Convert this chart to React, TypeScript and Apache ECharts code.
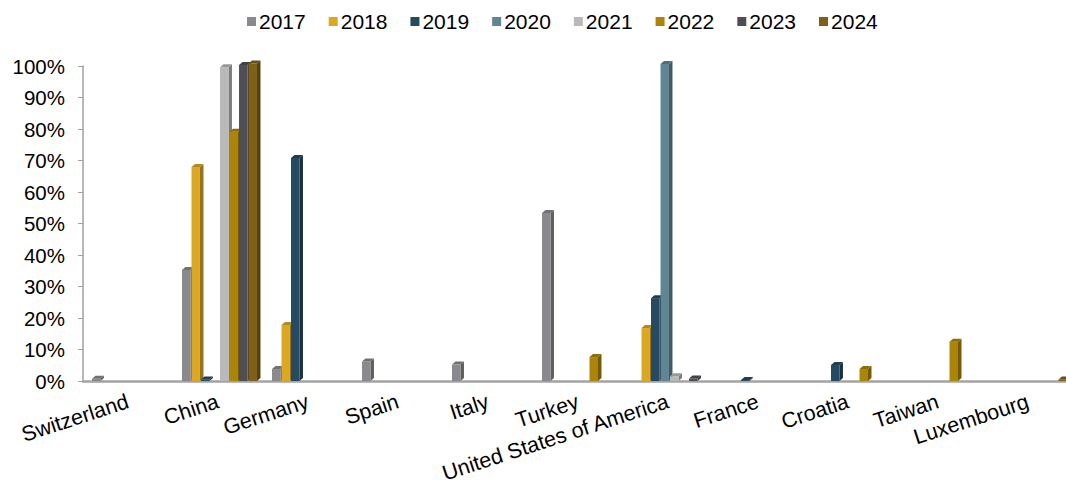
import React, { useEffect, useRef } from "react";
import * as echarts from "echarts";

const categories = [
  "Switzerland",
  "China",
  "Germany",
  "Spain",
  "Italy",
  "Turkey",
  "United States of America",
  "France",
  "Croatia",
  "Taiwan",
  "Luxembourg",
];

const years = ["2017", "2018", "2019", "2020", "2021", "2022", "2023", "2024"];

const s2017 = [0.7, 35.2, 3.8, 6.2, 5.2, 53.3, 0, 0, 0, 0, 0];
const s2018 = [0, 67.9, 17.8, 0, 0, 0, 16.8, 0, 0, 0, 0];
const s2019 = [0, 0.5, 70.8, 0, 0, 0, 26.3, 0.3, 5.1, 0, 0];
const s2020 = [0, 0, 0, 0, 0, 0, 100.6, 0, 0, 0, 0];
const s2021 = [0, 99.6, 0, 0, 0, 0, 1.5, 0, 0, 0, 0];
const s2022 = [0, 79.1, 0, 0, 0, 7.6, 0, 0, 3.8, 12.5, 0];
const s2023 = [0, 100.3, 0, 0, 0, 0, 0.8, 0, 0, 0, 0];
const s2024 = [0, 100.8, 0, 0, 0, 0, 0, 0, 0, 0, 0.5];

const seriesValues = [s2017, s2018, s2019, s2020, s2021, s2022, s2023, s2024];

const yTicks = [0, 10, 20, 30, 40, 50, 60, 70, 80, 90, 100];

const colors = [
  "#8A8A8E",
  "#DCA723",
  "#254A62",
  "#5F8693",
  "#B9B9B9",
  "#AC8508",
  "#4F4E55",
  "#7E6117",
];

function shade(hex: string, f: number): string {
  const n = parseInt(hex.slice(1), 16);
  let r = (n >> 16) & 255;
  let g = (n >> 8) & 255;
  let b = n & 255;
  if (f < 1) {
    r = Math.round(r * f);
    g = Math.round(g * f);
    b = Math.round(b * f);
  } else {
    const t = f - 1;
    r = Math.round(r + (255 - r) * t);
    g = Math.round(g + (255 - g) * t);
    b = Math.round(b + (255 - b) * t);
  }
  return `rgb(${r},${g},${b})`;
}

export default function App() {
  const ref = useRef<HTMLDivElement>(null);

  useEffect(() => {
    if (!ref.current) return;
    const chart = echarts.init(ref.current, undefined, { renderer: "svg" });

    const slotFrac = 0.1056;
    const startFrac = 0.1;
    const frontFrac = 0.094;
    const dx = 3.5;
    const dy = 3;

    const series = years.map((year, si) => {
      const color = colors[si];
      const data = seriesValues[si].map((v, ci) => [ci, v]);
      return {
        name: year,
        type: "custom",
        itemStyle: { color },
        clip: false,
        data,
        renderItem: (params: any, api: any) => {
          const ci = api.value(0);
          const v = api.value(1);
          if (!v) return null;
          const base = api.coord([ci, 0]);
          const top = api.coord([ci, v]);
          const band = api.size([1, 0])[0];
          const x0 = base[0] - band / 2 + band * startFrac + si * band * slotFrac;
          const w = band * frontFrac;
          const yb = base[1];
          const yt = top[1];
          const h = Math.max(0, yb - yt);
          return {
            type: "group",
            children: [
              {
                type: "polygon",
                shape: {
                  points: [
                    [x0 + w, yt],
                    [x0 + w + dx, yt - dy],
                    [x0 + w + dx, yb - dy],
                    [x0 + w, yb],
                  ],
                },
                style: { fill: shade(color, 0.68) },
              },
              {
                type: "rect",
                shape: { x: x0, y: yt, width: w, height: h },
                style: { fill: color },
              },
              {
                type: "polygon",
                shape: {
                  points: [
                    [x0, yt],
                    [x0 + dx, yt - dy],
                    [x0 + w + dx, yt - dy],
                    [x0 + w, yt],
                  ],
                },
                style: { fill: shade(color, 0.82) },
              },
            ],
          };
        },
      };
    });

    chart.setOption({
      animation: false,
      backgroundColor: "#ffffff",
      legend: {
        top: 6,
        left: 242,
        itemWidth: 9,
        itemHeight: 9,
        itemGap: 23,
        icon: "rect",
        textStyle: {
          fontFamily: "Liberation Sans, Arial, sans-serif",
          fontSize: 21,
          color: "#000",
          padding: [0, 0, 0, -2],
        },
        data: years,
      },
      grid: {
        left: 83,
        right: -7,
        top: 66,
        bottom: 107,
        containLabel: false,
        outerBoundsMode: "none",
      },
      xAxis: {
        type: "category",
        data: categories,
        axisLine: { show: true, lineStyle: { color: "#A3A3A3", width: 2.5 } },
        axisTick: { show: false },
        axisLabel: {
          interval: 0,
          rotate: 18,
          margin: 20,
          fontFamily: "Liberation Sans, Arial, sans-serif",
          fontSize: 21.5,
          color: "#000",
        },
        splitLine: { show: false },
      },
      yAxis: {
        type: "value",
        min: yTicks[0],
        max: yTicks[yTicks.length - 1],
        interval: 10,
        axisLine: { show: true, lineStyle: { color: "#A0A0A0", width: 1.5 } },
        axisTick: { show: true, length: 5, lineStyle: { color: "#A0A0A0" } },
        splitLine: { show: false },
        axisLabel: {
          formatter: "{value}%",
          margin: 18,
          fontFamily: "Liberation Sans, Arial, sans-serif",
          fontSize: 20.5,
          color: "#000",
        },
      },
      series,
    });

    return () => chart.dispose();
  }, []);

  return (
    <div
      ref={ref}
      style={{ position: "absolute", left: 0, top: 0, width: 1066, height: 488 }}
    />
  );
}
